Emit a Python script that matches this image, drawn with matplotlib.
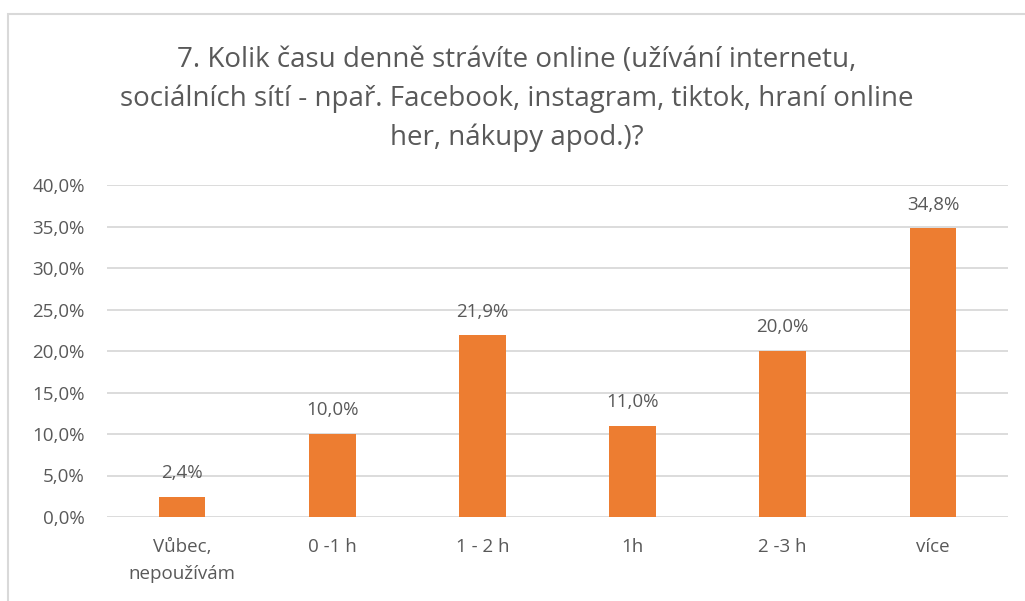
import matplotlib
matplotlib.use("Agg")
import matplotlib.pyplot as plt
from matplotlib.patches import Rectangle

categories = ["Vůbec,\nnepoužívám", "0 -1 h", "1 - 2 h", "1h", "2 -3 h", "více"]
values = [2.4, 10.0, 21.9, 11.0, 20.0, 34.8]
yticks = [0, 5, 10, 15, 20, 25, 30, 35, 40]
title = ("7. Kolik času denně strávíte online (užívání internetu,\n"
         "sociálních sítí - npař. Facebook, instagram, tiktok, hraní online\n"
         "her, nákupy apod.)?")

plt.rcParams['font.family'] = ['Open Sans', 'DejaVu Sans']
txt = "#595959"
W, H = 1025, 601
fig = plt.figure(figsize=(W/100, H/100), dpi=100)
fig.patches.append(Rectangle((8/W, -0.1), 1.2, 1 - 14/H + 0.1, transform=fig.transFigure,
                             fill=False, edgecolor="#d9d9d9", linewidth=1.5))
ax = fig.add_axes([107/W, 1 - 517/H, (1008-107)/W, (517-185)/H])
x = list(range(len(categories)))
ax.bar(x, values, width=0.31, color="#ED7D31", zorder=3)
ax.set_xlim(-0.5, len(categories) - 0.5)
ax.set_ylim(0, 40)
ax.set_yticks(yticks)
ax.set_yticklabels([f"{v:.1f}%".replace(".", ",") for v in yticks], color=txt, fontsize=13.5)
ax.set_xticks(x)
ax.set_xticklabels(categories, color=txt, fontsize=13.5, linespacing=1.65)
ax.tick_params(length=0)
ax.tick_params(axis='x', pad=15)
ax.tick_params(axis='y', pad=16)
ax.grid(axis='y', color="#d9d9d9", linewidth=1.3, zorder=0)
for s in ax.spines.values():
    s.set_visible(False)
for xi, v in zip(x, values):
    ax.annotate(f"{v:.1f}%".replace(".", ","), (xi, v), xytext=(0, 17), textcoords="offset points",
                ha="center", va="center", color=txt, fontsize=13.5)
fig.text(517/W, 1 - 99/H, title, ha="center", va="center", color=txt, fontsize=20,
         linespacing=1.5)
fig.savefig("out.png", dpi=100)
